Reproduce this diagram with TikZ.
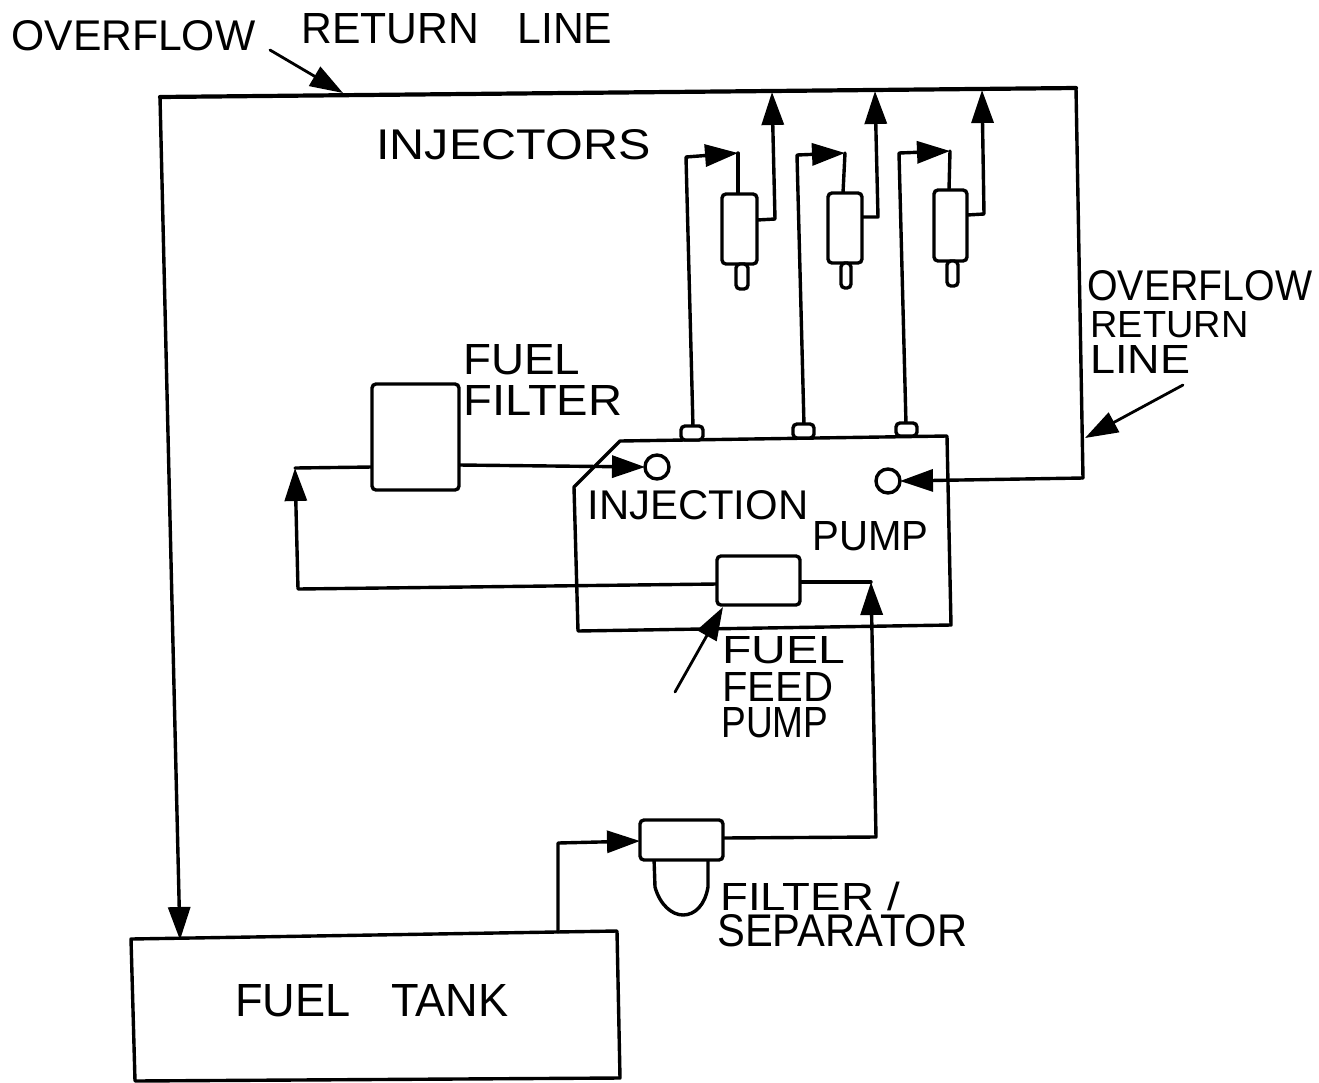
\documentclass[tikz,border=0pt]{standalone}
\usepackage{fontspec}
\usepackage{graphicx}
\setmainfont{Liberation Sans}
\usetikzlibrary{arrows.meta}
\newdimen\pxu \pxu=0.5pt
\tikzset{
  flow/.style={line width=1.7pt,line cap=round,line join=round},
  heavy/.style={line width=2.1pt,line cap=round,line join=round},
  thin line/.style={line width=1.4pt,line cap=round,line join=round},
  headed/.style={-{Triangle[length=16.5pt,width=11pt]}},
  part/.style={draw,line width=1.7pt,rounded corners=2pt,inner sep=0pt,fill=white},
  port/.style={draw,circle,line width=1.7pt,inner sep=0pt,minimum size=12pt},
  txt/.style={inner sep=0pt,anchor=west,font=\fontsize{20}{20}\selectfont}
}
\newcommand\bx[5]{\node[part,minimum width={(#4-#2)*0.5pt},minimum height={(#5-#3)*0.5pt}] (#1) at ({(#2+#4)/2},{(#3+#5)/2}) {};}
\newcommand\lab[6]{\node[txt] (#1) at (#2,#4) {\resizebox{#3\pxu}{#5\pxu}{#6}};}
\begin{document}
\begin{tikzpicture}[x=0.5pt,y=-0.5pt]
\useasboundingbox (0,0) rectangle (1319,1083);
\fill[white] (0,0) rectangle (1319,1083);
% named junctions
\coordinate (topL) at (160,97);
\coordinate (topR) at (1076,88);
\coordinate (rightB) at (1083,478);
\coordinate (tankIn) at (180,940);
\coordinate (ret1) at (772,92);
\coordinate (ret2) at (875,91);
\coordinate (ret3) at (982,90);
\coordinate (ret1c) at (775,219);
\coordinate (ret2c) at (878,217);
\coordinate (ret3c) at (984,214);
\coordinate (inj1r) at (757,220);
\coordinate (inj2r) at (862,217);
\coordinate (inj3r) at (967,215);
\coordinate (fa1) at (686,157);
\coordinate (fa2) at (797,155);
\coordinate (fa3) at (899,153);
\coordinate (fb1) at (738,153);
\coordinate (fb2) at (845,153);
\coordinate (fb3) at (950,151);
\coordinate (filtL) at (295,468);
\coordinate (filtIn) at (372,467);
\coordinate (filtOut) at (459,465);
\coordinate (pumpL) at (298,589);
\coordinate (feedL) at (717,584);
\coordinate (feedR) at (800,582);
\coordinate (fpR) at (871,582);
\coordinate (fsR) at (876,837);
\coordinate (sepL) at (640,841);
\coordinate (sepR) at (723,838);
\coordinate (tankUp) at (558,932);
\coordinate (tankC) at (558,843);
\coordinate (tk1) at (131,939);
\coordinate (tk2) at (617,931);
\coordinate (tk3) at (620,1078);
\coordinate (tk4) at (135,1081);
\coordinate (p1) at (574,487);
\coordinate (p2) at (620,441);
\coordinate (p3) at (947,436);
\coordinate (p4) at (951,625);
\coordinate (p5) at (578,631);
\coordinate (l1a) at (270,50);
\coordinate (l1b) at (343,93);
\coordinate (l2a) at (1183,385);
\coordinate (l2b) at (1085,438);
\coordinate (l3a) at (675,692);
\coordinate (l3b) at (723,607);
% pump body and tank
\draw[flow] (p1) -- (p2) -- (p3) -- (p4) -- (p5) -- cycle;
\draw[flow] (tk4) -- (tk1) -- (tk2) -- (tk3) -- (tk4);
% return circuit
\draw[heavy] (topL) -- (topR);
\draw[flow] (topR) -- (rightB);
\draw[flow,headed] (rightB) -- (900,481);
\draw[flow,headed] (topL) -- (tankIn);
% injector feeds
\draw[flow,headed] (693,427) -- (fa1) -- (fb1);
\draw[flow,headed] (804,425) -- (fa2) -- (fb2);
\draw[flow,headed] (906,424) -- (fa3) -- (fb3);
\draw[flow] (fb1) -- (738,194);
\draw[flow] (fb2) -- (843,193);
\draw[flow] (fb3) -- (949,190);
% injector returns
\draw[flow,headed] (inj1r) -- (ret1c) -- (ret1);
\draw[flow,headed] (inj2r) -- (ret2c) -- (ret2);
\draw[flow,headed] (inj3r) -- (ret3c) -- (ret3);
% supply line
\draw[flow,headed] (tankUp) -- (tankC) -- (sepL);
\draw[flow,headed] (sepR) -- (fsR) -- (fpR);
\draw[flow] (feedR) -- (fpR);
\draw[flow,headed] (feedL) -- (pumpL) -- (filtL);
\draw[flow] (filtL) -- (filtIn);
\draw[flow,headed] (filtOut) -- (645,467);
% boxes
\bx{inj1}{722}{194}{757}{264}
\bx{inj2}{828}{193}{862}{263}
\bx{inj3}{934}{190}{967}{261}
\bx{noz1}{736}{264}{748}{289}
\bx{noz2}{841}{263}{851}{288}
\bx{noz3}{947}{261}{958}{286}
\bx{port1}{681}{426}{703}{440}
\bx{port2}{793}{424}{814}{438}
\bx{port3}{896}{423}{917}{436}
\bx{filter}{372}{384}{459}{490}
\bx{feed}{717}{556}{800}{605}
\node[port] (cin) at (657,467) {};
\node[port] (cout) at (888,481) {};
% separator with its bowl
\draw[part,rounded corners=0pt] (654,858) -- (655,887) .. controls (660,905) and (672,915) .. (683,915) .. controls (695,915) and (705,905) .. (708,887) -- (708,858);
\bx{sep}{640}{820}{723}{860}
% leaders
\draw[thin line,headed] (l1a) -- (l1b);
\draw[thin line,headed] (l2a) -- (l2b);
\draw[thin line,headed] (l3a) -- (l3b);
% labels
\lab{t1}{11}{244}{36}{30}{OVERFLOW}
\lab{t2}{301}{311}{29}{30}{RETURN\hspace{0.9em}LINE}
\lab{t3}{376}{274}{145}{30}{INJECTORS}
\lab{t4}{463}{117}{360}{30}{FUEL}
\lab{t5}{463}{159}{400}{30}{FILTER}
\lab{t6}{1087}{225}{286}{30}{OVERFLOW}
\lab{t7}{1090}{158}{325}{26}{RETURN}
\lab{t8}{1090}{100}{359}{28}{LINE}
\lab{t9}{587}{221}{505}{29}{INJECTION}
\lab{t10}{812}{116}{536}{29}{PUMP}
\lab{t11}{722}{123}{650}{27}{FUEL}
\lab{t12}{722}{111}{687}{29}{FEED}
\lab{t13}{721}{107}{723}{30}{PUMP}
\lab{t14}{720}{180}{897}{27}{FILTER\hspace{0.3em}\smash{/}}
\lab{t15}{717}{250}{931}{32}{SEPARATOR}
\lab{t16}{235}{273}{1001}{32}{FUEL\hspace{0.9em}TANK}
\end{tikzpicture}
\end{document}
